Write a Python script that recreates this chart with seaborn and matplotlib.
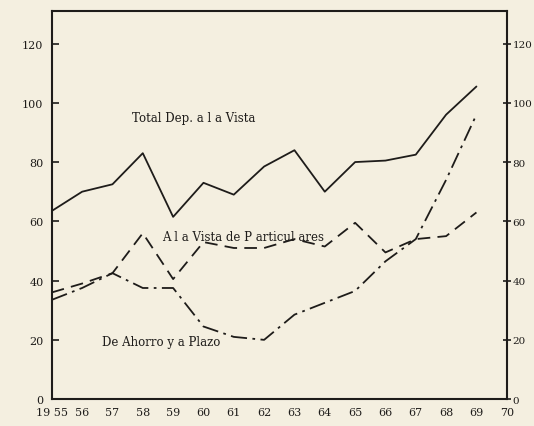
import matplotlib
matplotlib.use("Agg")
import matplotlib.pyplot as plt
import pandas as pd
import seaborn as sns

years = list(range(1955, 1970))
total_vista = [63.5, 70.0, 72.5, 83.0, 61.5, 73.0, 69.0, 78.5, 84.0, 70.0, 80.0, 80.5, 82.5, 96.0, 105.5]
vista_particulares = [36.0, 39.0, 42.5, 56.0, 40.5, 53.0, 51.0, 51.0, 54.0, 51.5, 59.5, 49.5, 54.0, 55.0, 63.0]
ahorro_plazo = [33.5, 37.5, 42.5, 37.5, 37.5, 24.5, 21.0, 20.0, 28.5, 32.5, 36.5, 46.5, 54.0, 74.0, 96.0]

xtick_years = list(range(1955, 1971))
xtick_labels = ["19 55"] + [str(y)[2:] for y in xtick_years[1:]]
ytick_values = [0, 20, 40, 60, 80, 100, 120]

df = pd.DataFrame({
    "year": years,
    "total": total_vista,
    "particulares": vista_particulares,
    "ahorro": ahorro_plazo,
})

sns.set_style("white")
plt.rcParams["font.family"] = ["DejaVu Serif"]

paper = "#f4efe0"
ink = "#1e1c1a"

fig = plt.figure(figsize=(5.34, 4.27), dpi=100, facecolor=paper)
ax = fig.add_axes([0.097, 0.063, 0.852, 0.909])
ax.set_facecolor(paper)

sns.lineplot(data=df, x="year", y="total", ax=ax, color=ink, linewidth=1.3)
sns.lineplot(data=df, x="year", y="particulares", ax=ax, color=ink, linewidth=1.3,
             linestyle=(0, (7, 4)))
sns.lineplot(data=df, x="year", y="ahorro", ax=ax, color=ink, linewidth=1.3,
             linestyle=(0, (9, 3, 1.5, 3)))

ax.set_xlim(1955, 1970)
ax.set_ylim(0, 131)
ax.set_xticks(xtick_years)
ax.set_xticklabels(xtick_labels)
ax.set_yticks(ytick_values)
ax.set_xlabel("")
ax.set_ylabel("")
ax.tick_params(axis="both", direction="in", length=5, width=1.2, colors=ink,
               labelsize=8, pad=6)
for s in ax.spines.values():
    s.set_color(ink)
    s.set_linewidth(1.5)

ax2 = ax.twinx()
ax2.set_ylim(0, 131)
ax2.set_yticks(ytick_values)
ax2.tick_params(axis="y", direction="inout", length=6, width=1.2, colors=ink,
                labelsize=7.5, pad=1)
for s in ax2.spines.values():
    s.set_visible(False)

ax.text(1957.65, 95, "Total Dep. a l a Vista", fontsize=8.5, color=ink, va="center")
ax.text(1958.65, 55, "A l a Vista de P articul ares", fontsize=8.5, color=ink, va="center")
ax.text(1956.65, 19.6, "De Ahorro y a Plazo", fontsize=8.5, color=ink, va="center")

fig.savefig("out.png", dpi=100, facecolor=paper)
